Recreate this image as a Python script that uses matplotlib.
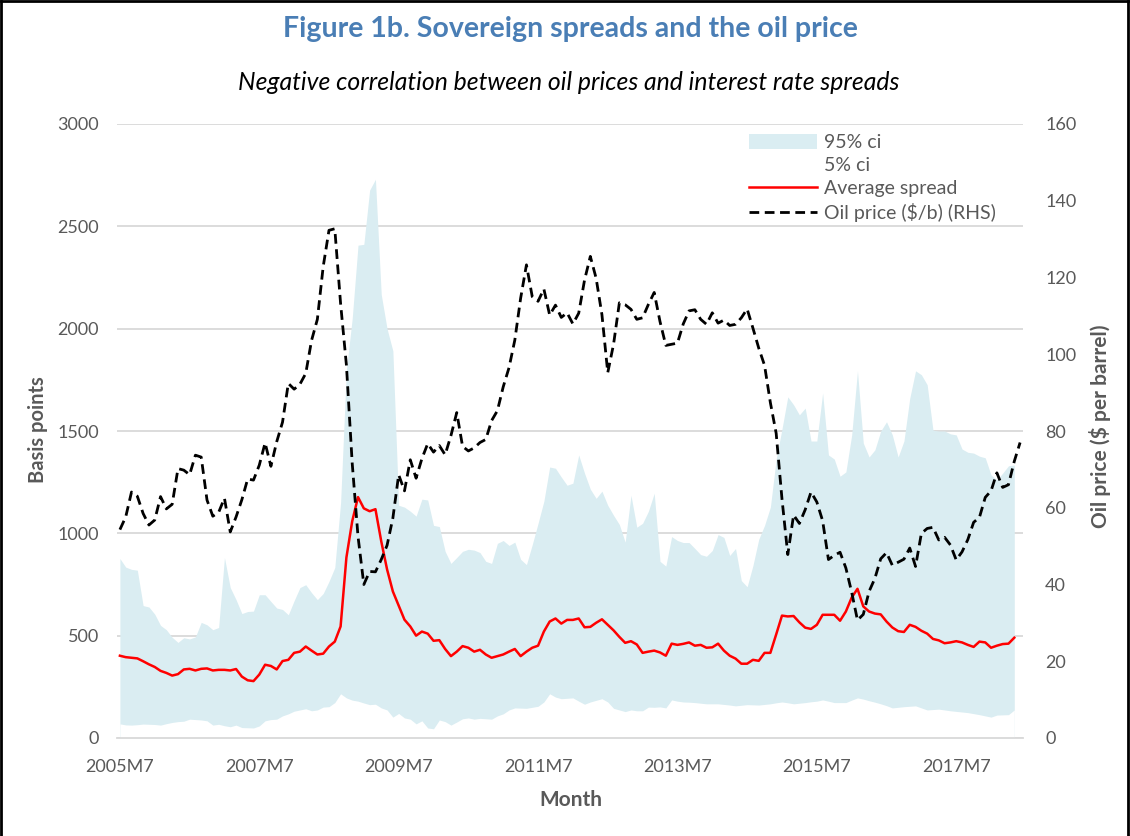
import matplotlib
matplotlib.use("Agg")
import matplotlib.pyplot as plt
from matplotlib.lines import Line2D
from matplotlib.patches import Patch
import numpy as np

plt.rcParams['font.family'] = ['Lato', 'DejaVu Sans']

# monthly categories, 2005M7 onwards
months = [f"{2005 + (6 + i) // 12}M{(6 + i) % 12 + 1}" for i in range(156)]

# basis points
avg_spread = [402, 395, 392, 389, 375, 360, 347, 328, 318, 305,
              312, 335, 338, 330, 338, 340, 330, 333, 333, 330,
              337, 300, 282, 278, 310, 358, 352, 335, 376, 382,
              416, 422, 447, 427, 408, 412, 447, 471, 545, 882,
              1059, 1177, 1122, 1108, 1118, 961, 824, 716, 647, 578,
              545, 500, 520, 510, 475, 478, 435, 400, 422, 449,
              441, 422, 431, 408, 392, 400, 408, 422, 435, 400,
              422, 441, 451, 520, 569, 584, 559, 577, 577, 584,
              541, 543, 563, 580, 553, 526, 494, 465, 473, 457,
              416, 422, 427, 418, 402, 461, 455, 460, 467, 451,
              455, 441, 443, 461, 427, 402, 388, 363, 363, 382,
              377, 416, 416, 506, 598, 594, 596, 565, 539, 533,
              553, 602, 602, 602, 573, 618, 686, 729, 643, 618,
              608, 604, 569, 540, 522, 518, 553, 543, 524, 510,
              484, 477, 463, 467, 473, 467, 455, 445, 471, 467,
              441, 451, 459, 461, 490, np.nan]

ci_95 = [877, 835, 824, 820, 647, 640, 605, 550, 529, 492,
         467, 490, 484, 494, 565, 553, 529, 540, 882, 735,
         676, 608, 618, 620, 700, 700, 667, 635, 628, 602,
         671, 735, 749, 710, 676, 706, 765, 833, 1150, 1800,
         2050, 2408, 2412, 2677, 2730, 2167, 2000, 1892, 1137, 1128,
         1108, 1084, 1167, 1163, 1039, 1033, 912, 853, 882, 912,
         922, 918, 906, 863, 853, 951, 965, 941, 957, 873,
         847, 945, 1049, 1157, 1324, 1318, 1275, 1235, 1245, 1383,
         1294, 1216, 1171, 1206, 1137, 1088, 1043, 957, 1186, 1030,
         1049, 1108, 1196, 863, 840, 984, 965, 955, 955, 926,
         896, 888, 916, 994, 980, 892, 926, 769, 739, 843,
         971, 1039, 1128, 1363, 1510, 1667, 1628, 1579, 1612, 1451,
         1451, 1686, 1383, 1363, 1279, 1300, 1480, 1794, 1441, 1373,
         1408, 1500, 1545, 1481, 1373, 1451, 1660, 1794, 1775, 1726,
         1504, 1500, 1500, 1486, 1481, 1412, 1396, 1392, 1377, 1369,
         1285, 1261, 1294, 1330, 1334, np.nan]

ci_5 = [69, 64, 63, 65, 68, 67, 66, 63, 70, 76,
        80, 82, 92, 90, 88, 84, 63, 67, 60, 55,
        63, 51, 50, 49, 59, 84, 90, 92, 108, 118,
        131, 137, 143, 133, 137, 151, 153, 173, 216, 196,
        185, 180, 171, 163, 165, 147, 137, 102, 120, 98,
        92, 69, 84, 49, 45, 88, 80, 63, 78, 94,
        98, 92, 96, 94, 92, 108, 118, 137, 147, 146,
        145, 150, 155, 176, 216, 200, 192, 194, 196, 180,
        165, 176, 184, 192, 176, 145, 137, 129, 137, 133,
        133, 151, 150, 152, 147, 186, 180, 176, 175, 173,
        170, 167, 167, 167, 164, 161, 157, 160, 163, 162,
        161, 164, 167, 172, 176, 172, 167, 170, 173, 177,
        180, 186, 180, 173, 173, 173, 185, 196, 190, 182,
        175, 167, 158, 147, 150, 153, 155, 157, 147, 137,
        139, 141, 137, 133, 130, 127, 124, 119, 114, 108,
        102, 112, 113, 114, 137, np.nan]

# $ per barrel (RHS)
oil_price = [54.3, 57.6, 64.1, 63.0, 58.5, 55.5, 56.8,
             62.9, 59.7, 60.9, 70.2, 69.8, 68.6, 73.7, 73.2, 62.0, 57.8, 58.8, 62.5,
             53.7, 57.6, 62.1, 67.5, 67.2, 71.1, 76.9, 70.8, 77.2, 82.3, 92.4, 90.9,
             92.2, 95.0, 103.6, 109.1, 122.8, 132.3, 132.7, 113.2, 97.2, 71.6, 52.5, 40.0,
             43.4, 43.3, 46.5, 50.2, 57.3, 68.6, 64.4, 72.5, 67.7, 72.8, 76.7, 74.5,
             76.2, 73.8, 78.8, 84.8, 76.0, 74.8, 75.6, 77.0, 77.8, 82.7, 85.3, 91.5,
             96.5, 103.7, 114.6, 123.3, 115.0, 113.8, 117.0, 110.2, 112.8, 109.6, 110.8, 107.9,
             110.7, 119.3, 125.5, 119.8, 110.3, 95.2, 102.6, 113.4, 112.9, 111.7, 109.1, 109.5,
             113.0, 116.1, 108.5, 102.3, 102.6, 102.9, 107.9, 111.3, 111.6, 109.1, 107.8, 110.8,
             108.1, 108.9, 107.5, 107.8, 109.5, 111.8, 106.8, 101.6, 97.1, 87.4, 79.4, 62.3,
             47.8, 58.1, 55.9, 59.5, 64.1, 61.5, 56.6, 46.5, 47.6, 48.4, 44.3, 38.0,
             30.7, 32.2, 38.2, 41.6, 46.7, 48.3, 45.0, 45.8, 46.6, 49.5, 44.7, 53.3,
             54.6, 54.9, 51.6, 52.3, 50.3, 46.4, 48.5, 51.7, 56.2, 57.5, 62.7, 64.4,
             69.1, 65.3, 66.0, 72.1, 77.0]

GREY = '#595959'
BAND = '#DAEDF2'

W, H = 1130, 836
fig = plt.figure(figsize=(W / 100, H / 100), dpi=100)


def fx(px):
    return px / W


def fy(py):
    return 1 - py / H


ax = fig.add_axes([fx(117), fy(738), fx(1023) - fx(117), fy(124) - fy(738)])
x = np.arange(len(months))

ax.fill_between(x, 0, ci_95, color=BAND, lw=0, zorder=2)
ax.fill_between(x, 0, ci_5, color='white', lw=0, zorder=2.1)
ax.plot(x, avg_spread, color='#FF0000', lw=1.8, zorder=3)

ax.set_xlim(-0.5, len(months) - 0.5)
ax.set_ylim(0, 3000)
ax.set_yticks(range(0, 3001, 500))
ax.set_xticks(x[::24])
ax.set_xticklabels(months[::24])
ax.yaxis.grid(True, color='#D9D9D9', lw=1.3)
ax.set_axisbelow(True)
for s in ['top', 'left', 'right']:
    ax.spines[s].set_visible(False)
ax.spines['bottom'].set_color('#D9D9D9')
ax.spines['bottom'].set_linewidth(1.3)
ax.spines['bottom'].set_zorder(5)
ax.tick_params(axis='y', length=0, pad=13, labelsize=13, labelcolor=GREY)
ax.tick_params(axis='x', length=0, pad=15, labelsize=13, labelcolor=GREY)

ax2 = ax.twinx()
ax2.plot(x[:len(oil_price)], oil_price, color='black', lw=2, ls=(0, (3.5, 2)), zorder=4)
ax2.set_ylim(0, 160)
ax2.set_yticks(range(0, 161, 20))
for s in ax2.spines.values():
    s.set_visible(False)
ax2.tick_params(axis='y', length=0, pad=16, labelsize=13, labelcolor=GREY)

# titles and axis labels
fig.text(fx(570), fy(29), 'Figure 1b. Sovereign spreads and the oil price', ha='center', va='center',
         fontsize=20.5, fontweight='bold', color='#4A7EB5')
fig.text(fx(569), fy(83), 'Negative correlation between oil prices and interest rate spreads', ha='center',
         va='center', fontsize=17.8, fontstyle='italic', color='black')
fig.text(fx(38), fy(430), 'Basis points', rotation=90, ha='center', va='center', fontsize=14.5,
         fontweight='bold', color=GREY)
fig.text(fx(1100), fy(426), 'Oil price ($ per barrel)', rotation=90, ha='center', va='center', fontsize=15,
         fontweight='bold', color=GREY)
fig.text(fx(571), fy(800), 'Month', ha='center', va='center', fontsize=15, fontweight='bold', color=GREY)

handles = [Patch(facecolor=BAND, edgecolor='none'),
           Patch(facecolor='white', edgecolor='none'),
           Line2D([], [], color='#FF0000', lw=1.8),
           Line2D([], [], color='black', lw=2, ls=(0, (3.5, 2)))]
labels = ['95% ci', '5% ci', 'Average spread', 'Oil price ($/b) (RHS)']
ax2.legend(handles, labels, loc='upper left', bbox_to_anchor=(fx(739), fy(124)),
           bbox_transform=fig.transFigure, frameon=False, fontsize=14, labelcolor=GREY,
           handlelength=3.5, handleheight=0.8, handletextpad=0.36, labelspacing=0.3, borderpad=0)

# frame around the figure
for xs, ys in [([0, 0], [0, 1]), ([0, 1], [1, 1]), ([1, 1], [0, 1])]:
    fig.add_artist(Line2D([fx(1) if v == 0 else fx(W - 2) for v in xs],
                          [fy(1) if v == 1 else v for v in ys],
                          transform=fig.transFigure, color='black', lw=2))

fig.savefig('out.png', dpi=100)
